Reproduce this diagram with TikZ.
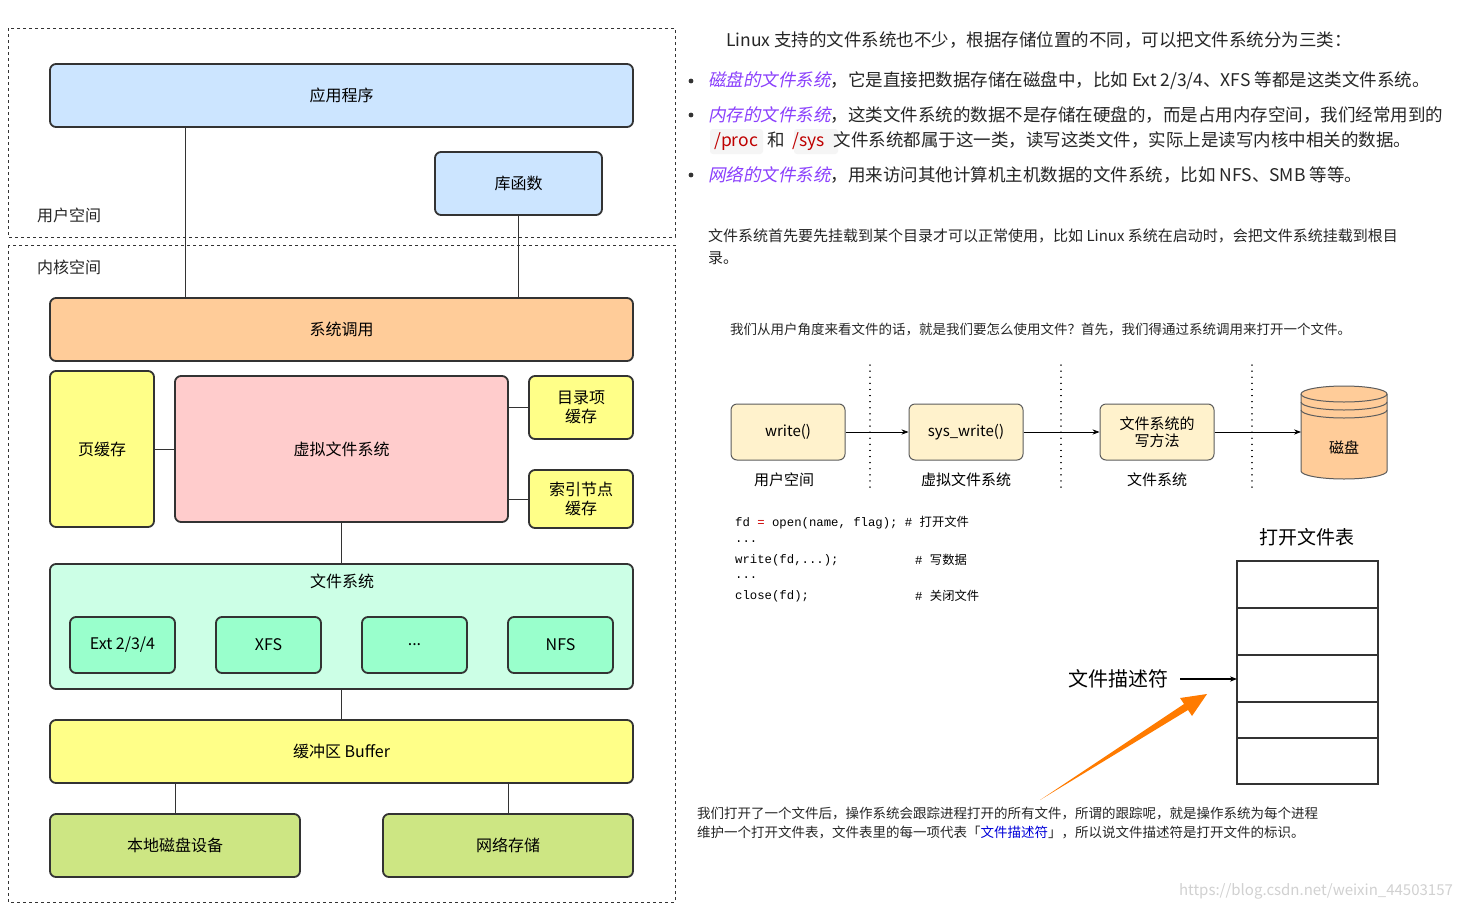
\documentclass[tikz,border=0pt]{standalone}
\usepackage{fontspec}
\setmainfont{Noto Sans CJK SC}
\newfontfamily\monof{Liberation Mono}
\newfontfamily\slantf{Noto Sans CJK SC}[FakeSlant=0.2]
\usetikzlibrary{arrows.meta}
\definecolor{cblue}{HTML}{CCE5FF}
\definecolor{corange}{HTML}{FFCC99}
\definecolor{cyellow}{HTML}{FFFF88}
\definecolor{cpink}{HTML}{FFCCCC}
\definecolor{cmint}{HTML}{CCFFE6}
\definecolor{cmint2}{HTML}{99FFCC}
\definecolor{cgreen}{HTML}{CDE683}
\definecolor{cflow}{HTML}{FFF2CC}
\definecolor{cpurple}{HTML}{8A3FFC}
\definecolor{cline}{HTML}{333333}
\tikzset{
 px/.style={x=1pt,y=-1pt},
 box/.style={draw=cline,line width=1.8pt,rounded corners=6pt,inner sep=0pt,font=\fontsize{16}{19}\selectfont,align=center},
 fbox/.style={draw=cline!80,line width=1pt,rounded corners=6pt,fill=cflow,inner sep=0pt,font=\fontsize{15}{17}\selectfont,align=center},
 conn/.style={draw=cline,line width=0.8pt},
 farr/.style={draw=black,line width=0.8pt,-{Stealth[length=7pt]}},
 body/.style={anchor=west,inner sep=0pt,font=\fontsize{17.5}{20}\selectfont,text=black!85},
 small/.style={anchor=west,inner sep=0pt,font=\fontsize{13.5}{16}\selectfont,text=black!85},
 code/.style={anchor=west,inner sep=0pt,font=\monof\fontsize{12.3}{14}\selectfont},
}
\newcommand{\bx}[6]{\node[box,fill=#6,minimum width=#3pt-#1pt,minimum height=#4pt-#2pt] (#5) at ({(#1+#3)/2},{(#2+#4)/2})}
\begin{document}
\begin{tikzpicture}[px]
\useasboundingbox (0,0) rectangle (1461,910);
\fill[white] (0,0) rectangle (1461,910);
% dashed areas
\draw[dashed,cline,line width=0.7pt] (8,28) rectangle (675,237);
\draw[dashed,cline,line width=0.7pt] (8,245) rectangle (675,902);
\node[body,font=\fontsize{16}{18}\selectfont] (us) at (37,215) {用户空间};
\node[body,font=\fontsize{16}{18}\selectfont] (ks) at (37,267) {内核空间};
% boxes
\bx{50}{64}{633}{127}{app}{cblue} {应用程序};
\bx{435}{152}{602}{215}{lib}{cblue} {库函数};
\bx{50}{298}{633}{361}{sys}{corange} {系统调用};
\bx{50}{371}{154}{527}{page}{cyellow} {页缓存};
\bx{175}{376}{508}{522}{vfs}{cpink} {虚拟文件系统};
\bx{529}{376}{633}{439}{dent}{cyellow} {目录项\\缓存};
\bx{529}{470}{633}{528}{inode}{cyellow} {索引节点\\缓存};
\bx{50}{564}{633}{689}{fs}{cmint} {};
\node[inner sep=0pt,font=\fontsize{16}{19}\selectfont] (fsl) at (342,581) {文件系统};
\bx{70}{617}{175}{673}{ext}{cmint2} {Ext 2/3/4};
\bx{216}{617}{321}{673}{xfs}{cmint2} {XFS};
\bx{362}{617}{467}{673}{dots}{cmint2} {...};
\bx{508}{617}{613}{673}{nfs}{cmint2} {NFS};
\bx{50}{720}{633}{783}{buf}{cyellow} {缓冲区 Buffer};
\bx{50}{814}{300}{877}{disk}{cgreen} {本地磁盘设备};
\bx{383}{814}{633}{877}{net}{cgreen} {网络存储};
% connectors
\draw[conn] (app.south -| 185,0) -- (sys.north -| 185,0);
\draw[conn] (lib.south) -- (sys.north -| lib.south);
\draw[conn] (page.east) -- (vfs.west |- page.east);
\draw[conn] (vfs.east |- dent.west) -- (dent.west);
\draw[conn] (vfs.east |- inode.west) -- (inode.west);
\draw[conn] (vfs.south) -- (fs.north);
\draw[conn] (fs.south) -- (buf.north);
\draw[conn] (buf.south -| disk.north) -- (disk.north);
\draw[conn] (buf.south -| 508,0) -- (net.north -| 508,0);
% right text
\node[body] (t1) at (726,40) {Linux 支持的文件系统也不少，根据存储位置的不同，可以把文件系统分为三类：};
\foreach \yy in {81,115,175}{\fill[black!80] (691,\yy) circle (2.4pt);}
\node[body] (l1) at (708,81) {\textcolor{cpurple}{\slantf 磁盘的文件系统}，它是直接把数据存储在磁盘中，比如 Ext 2/3/4、XFS 等都是这类文件系统。};
\node[body] (l2) at (708,115) {\textcolor{cpurple}{\slantf 内存的文件系统}，这类文件系统的数据不是存储在硬盘的，而是占用内存空间，我们经常用到的};
\fill[black!4,rounded corners=3pt] (710,129) rectangle (763,154);
\fill[black!4,rounded corners=3pt] (794,129) rectangle (838,154);
\node[body] (l2b) at (714,141) {\textcolor{red!75!black}{/proc}\hspace{9pt}和\hspace{8pt}\textcolor{red!75!black}{/sys}\hspace{9pt}文件系统都属于这一类，读写这类文件，实际上是读写内核中相关的数据。};
\node[body] (l3) at (708,175) {\textcolor{cpurple}{\slantf 网络的文件系统}，用来访问其他计算机主机数据的文件系统，比如 NFS、SMB 等等。};
\node[small,font=\fontsize{15}{17}\selectfont] (p1) at (708,236) {文件系统首先要先挂载到某个目录才可以正常使用，比如 Linux 系统在启动时，会把文件系统挂载到根目};
\node[small,font=\fontsize{15}{17}\selectfont] (p1b) at (708,258) {录。};
\node[small] (p2) at (730,330) {我们从用户角度来看文件的话，就是我们要怎么使用文件？首先，我们得通过系统调用来打开一个文件。};
% flow
\node[fbox,minimum width=114pt,minimum height=56pt] (w) at (788,432) {write()};
\node[fbox,minimum width=114pt,minimum height=56pt] (sw) at (966,432) {sys\_write()};
\node[fbox,minimum width=114pt,minimum height=56pt] (fw) at (1157,432) {文件系统的\\写方法};
\coordinate (cyl) at (1301,432);
\filldraw[fill=corange,draw=cline!80,line width=1pt] (1301,394) -- (1301,471) arc[start angle=180,end angle=0,x radius=43,y radius=8] -- (1387,394) arc[start angle=360,end angle=180,x radius=43,y radius=8] -- cycle;
\foreach \yy in {394,402,410}{\draw[cline!80,line width=1pt] (1301,\yy) arc[start angle=180,end angle=0,x radius=43,y radius=8];}
\node[inner sep=0pt,font=\fontsize{15}{17}\selectfont] (cyll) at (1344,448) {磁盘};
\draw[farr] (w) -- (sw);
\draw[farr] (sw) -- (fw);
\draw[farr] (fw) -- (cyl);
\foreach \xx in {870,1061,1252}{\draw[line width=1.3pt,dash pattern=on 0.1pt off 6pt,line cap=round] (\xx,365) -- (\xx,490);}
\node[inner sep=0pt,font=\fontsize{15}{17}\selectfont] (f1) at (784,480) {用户空间};
\node[inner sep=0pt,font=\fontsize{15}{17}\selectfont] (f2) at (966,480) {虚拟文件系统};
\node[inner sep=0pt,font=\fontsize{15}{17}\selectfont] (f3) at (1157,480) {文件系统};
% code
\node[code] (c1) at (735,523) {fd \textcolor{red!80!black}{=} open(name, flag); \# {\rmfamily 打开文件}};
\node[code] (c2) at (735,542) {...};
\node[code] (c3) at (735,560) {write(fd,...);};
\node[code] (c3c) at (915,560) {\# {\rmfamily 写数据}};
\node[code] (c4) at (735,578) {...};
\node[code] (c5) at (735,596) {close(fd);};
\node[code] (c5c) at (915,596) {\# {\rmfamily 关闭文件}};
% table
\node[inner sep=0pt,font=\fontsize{19}{22}\selectfont] (tt) at (1307,537) {打开文件表};
\draw[cline,line width=1.2pt] (1237,561) rectangle (1378,784);
\foreach \yy in {608,655,702,738}{\draw[cline,line width=1.2pt] (1237,\yy) -- (1378,\yy);}
\coordinate (row) at (1237,679);
\node[inner sep=0pt,font=\fontsize{20}{23}\selectfont] (fd) at (1118,679) {文件描述符};
\draw[farr,line width=1.2pt] (1180,679) -- (row);
\draw[draw=none,fill=orange!85!red!90!yellow] (1040,800) -- (1184,704) -- (1180,698) -- (1207,694) -- (1192,716) -- (1188,710) -- cycle;
% bottom text
\node[small] (q1) at (697,813) {我们打开了一个文件后，操作系统会跟踪进程打开的所有文件，所谓的跟踪呢，就是操作系统为每个进程};
\node[small] (q2) at (697,832) {维护一个打开文件表，文件表里的每一项代表「\textcolor{blue!85!black}{文件描述符}」，所以说文件描述符是打开文件的标识。};
\node[inner sep=0pt,font=\fontsize{15}{18}\selectfont,text=black!18] (wm) at (1316,891) {https://blog.csdn.net/weixin\_44503157};
\end{tikzpicture}
\end{document}
